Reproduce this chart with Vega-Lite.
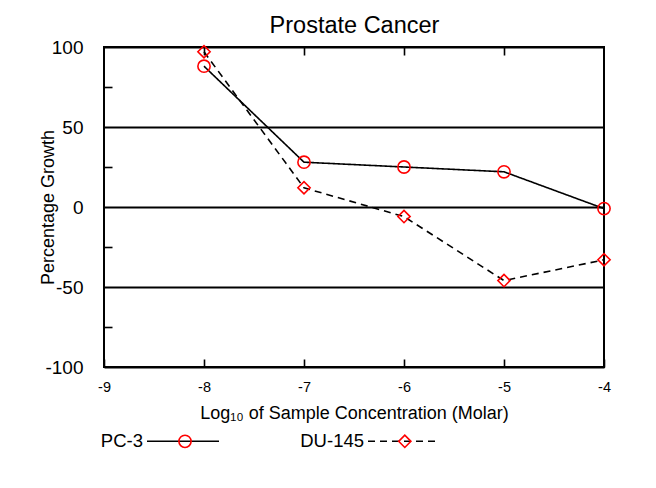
{
  "$schema": "https://vega.github.io/schema/vega-lite/v6.json",
  "width": 500,
  "height": 320,
  "autosize": "none",
  "padding": {"left": 104, "top": 47, "right": 52, "bottom": 121},
  "background": "white",
  "config": {
    "font": "Liberation Sans",
    "view": {"stroke": "black", "strokeWidth": 2}
  },
  "resolve": {"axis": {"x": "independent", "y": "independent"}},
  "data": {
    "values": [
      {"x": -8, "y": 88, "series": "PC-3"},
      {"x": -7, "y": 28, "series": "PC-3"},
      {"x": -6, "y": 25, "series": "PC-3"},
      {"x": -5, "y": 22, "series": "PC-3"},
      {"x": -4, "y": -1, "series": "PC-3"},
      {"x": -8, "y": 97, "series": "DU-145"},
      {"x": -7, "y": 12, "series": "DU-145"},
      {"x": -6, "y": -6, "series": "DU-145"},
      {"x": -5, "y": -46, "series": "DU-145"},
      {"x": -4, "y": -33, "series": "DU-145"}
    ]
  },
  "layer": [
    {
      "mark": {"type": "line", "color": "black", "strokeWidth": 1.6},
      "encoding": {
        "x": {
          "field": "x",
          "type": "quantitative",
          "scale": {"domain": [-9, -4], "nice": false, "zero": false},
          "axis": {
            "orient": "bottom",
            "offset": -8,
            "values": [-9, -8, -7, -6, -5, -4],
            "labelExpr": "'' + datum.value",
            "labelFont": "Liberation Sans",
            "labelFontSize": 14.5,
            "labelColor": "black",
            "labelPadding": 13,
            "labelFlush": false,
            "ticks": true,
            "tickSize": 8,
            "tickColor": "black",
            "tickWidth": 1.6,
            "domain": false,
            "grid": false,
            "title": "Log₁₀ of Sample Concentration (Molar)",
            "titleFont": "Liberation Sans",
            "titleFontSize": 18,
            "titleFontWeight": "normal",
            "titleColor": "black",
            "titleBaseline": "alphabetic",
            "titleY": 59
          }
        },
        "y": {
          "field": "y",
          "type": "quantitative",
          "scale": {"domain": [-100, 100], "nice": false, "zero": false},
          "axis": {
            "orient": "left",
            "offset": -8,
            "values": [-100, -50, 0, 50, 100],
            "labelExpr": "'' + datum.value",
            "labelFont": "Liberation Sans",
            "labelFontSize": 19,
            "labelColor": "black",
            "labelPadding": 29,
            "labelFlush": false,
            "domain": false,
            "ticks": false,
            "grid": true,
            "gridColor": "black",
            "gridWidth": 2,
            "title": "Percentage Growth",
            "titleFont": "Liberation Sans",
            "titleFontSize": 18,
            "titleFontWeight": "normal",
            "titleColor": "black",
            "titleAngle": -90,
            "titleAlign": "center",
            "titleBaseline": "alphabetic",
            "titleX": -59,
            "titleY": 160
          }
        },
        "strokeDash": {
          "field": "series",
          "type": "nominal",
          "scale": {"domain": ["PC-3", "DU-145"], "range": [[1, 0], [7, 5]]},
          "legend": {
            "orient": "none",
            "legendX": 42,
            "legendY": 357,
            "direction": "horizontal",
            "title": null,
            "symbolType": "stroke",
            "symbolSize": 5184,
            "symbolStrokeColor": "black",
            "symbolStrokeWidth": 1.6,
            "labelFont": "Liberation Sans",
            "labelFontSize": 18.5,
            "labelColor": "black",
            "labelAlign": "right",
            "labelOffset": -77,
            "columnPadding": 77
          }
        }
      }
    },
    {
      "mark": {"type": "point", "filled": false, "color": "red", "strokeWidth": 1.6, "size": 150, "opacity": 1},
      "encoding": {
        "x": {
          "field": "x",
          "type": "quantitative",
          "axis": {
            "orient": "top",
            "offset": -8,
            "values": [-8, -7, -6, -5],
            "labels": false,
            "domain": false,
            "grid": false,
            "ticks": true,
            "tickSize": 8,
            "tickColor": "black",
            "tickWidth": 1.6,
            "title": "Prostate Cancer",
            "titleFont": "Liberation Sans",
            "titleFontSize": 23.5,
            "titleFontWeight": "normal",
            "titleColor": "black",
            "titleBaseline": "alphabetic",
            "titleAlign": "center",
            "titleY": -23
          }
        },
        "y": {
          "field": "y",
          "type": "quantitative",
          "axis": {
            "orient": "left",
            "offset": -8,
            "values": [-75, -25, 25, 75],
            "labels": false,
            "domain": false,
            "grid": false,
            "ticks": true,
            "tickSize": 8,
            "tickColor": "black",
            "tickWidth": 1.6,
            "title": null
          }
        },
        "shape": {
          "field": "series",
          "type": "nominal",
          "sort": "descending",
          "scale": {"range": ["circle", "diamond"]},
          "legend": {
            "orient": "none",
            "legendX": 74,
            "legendY": 387,
            "direction": "horizontal",
            "title": null,
            "symbolSize": 150,
            "symbolStrokeColor": "red",
            "symbolFillColor": "transparent",
            "symbolStrokeWidth": 1.6,
            "symbolOffset": 0,
            "labelExpr": "''",
            "labelFontSize": 1,
            "labelOffset": 0,
            "labelAlign": "left",
            "columnPadding": 199.8
          }
        }
      }
    }
  ]
}
